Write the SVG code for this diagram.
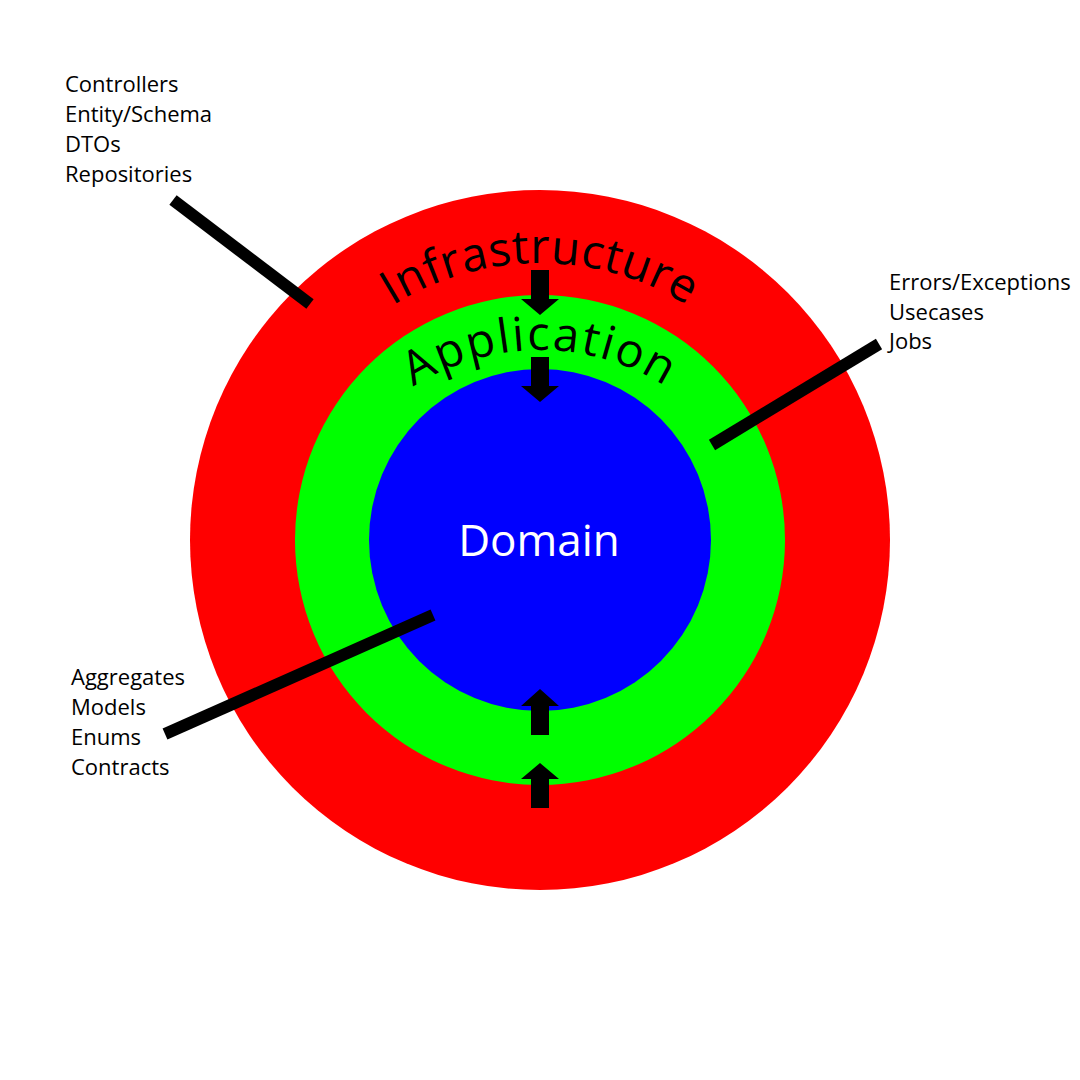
<svg xmlns="http://www.w3.org/2000/svg" width="1080" height="1080" viewBox="0 0 1080 1080">
<style>
.lbl{font-family:"Open Sans","Liberation Sans",sans-serif;font-size:22px;fill:#000}
.arc{font-family:"Open Sans","Liberation Sans",sans-serif;font-size:47px;fill:#000}
.dom{font-family:"Open Sans","Liberation Sans",sans-serif;font-size:44px;fill:#fff}
.lead{stroke:#000;stroke-width:12;fill:none}
.arr{fill:#000}
</style>
<defs>
<path id="infraArc" d="M 263 540 A 277 277 0 0 1 817 540"/>
<path id="appArc" d="M 305 585 A 235 235 0 0 1 775 585"/>
</defs>
<rect width="1080" height="1080" fill="#fff"/>
<g id="infrastructure">
<circle cx="540" cy="540" r="350" fill="#ff0000"/>
<text class="arc" letter-spacing="0.5"><textPath href="#infraArc" startOffset="50%" text-anchor="middle">Infrastructure</textPath></text>
</g>
<g id="application">
<circle cx="540" cy="540" r="245" fill="#00ff00"/>
<text class="arc" letter-spacing="2"><textPath href="#appArc" startOffset="50%" text-anchor="middle">Application</textPath></text>
</g>
<g id="domain">
<circle cx="540" cy="540" r="171" fill="#0000ff"/>
<text class="dom" x="539" y="556" text-anchor="middle">Domain</text>
</g>
<g id="infra-notes">
<text class="lbl" x="65" y="92">Controllers</text>
<text class="lbl" x="65" y="122">Entity/Schema</text>
<text class="lbl" x="65" y="152">DTOs</text>
<text class="lbl" x="65" y="182">Repositories</text>
</g>
<g id="app-notes">
<text class="lbl" x="889" y="290">Errors/Exceptions</text>
<text class="lbl" x="889" y="320">Usecases</text>
<text class="lbl" x="889" y="349">Jobs</text>
</g>
<g id="domain-notes">
<text class="lbl" x="71" y="685">Aggregates</text>
<text class="lbl" x="71" y="715">Models</text>
<text class="lbl" x="71" y="745">Enums</text>
<text class="lbl" x="71" y="775">Contracts</text>
</g>
<g id="connectors">
<line class="lead" x1="173" y1="200" x2="310" y2="304"/>
<line class="lead" x1="712" y1="445" x2="879" y2="344"/>
<line class="lead" x1="165" y1="734" x2="433" y2="615"/>
<polygon class="arr" points="531,270 549,270 549,299 559,299 540,315 521,299 531,299"/>
<polygon class="arr" points="531,357 549,357 549,386 559,386 540,402 521,386 531,386"/>
<polygon class="arr" points="540,689 559,706 549,706 549,735 531,735 531,706 521,706"/>
<polygon class="arr" points="540,763 559,779 549,779 549,808 531,808 531,779 521,779"/>
</g>
</svg>
